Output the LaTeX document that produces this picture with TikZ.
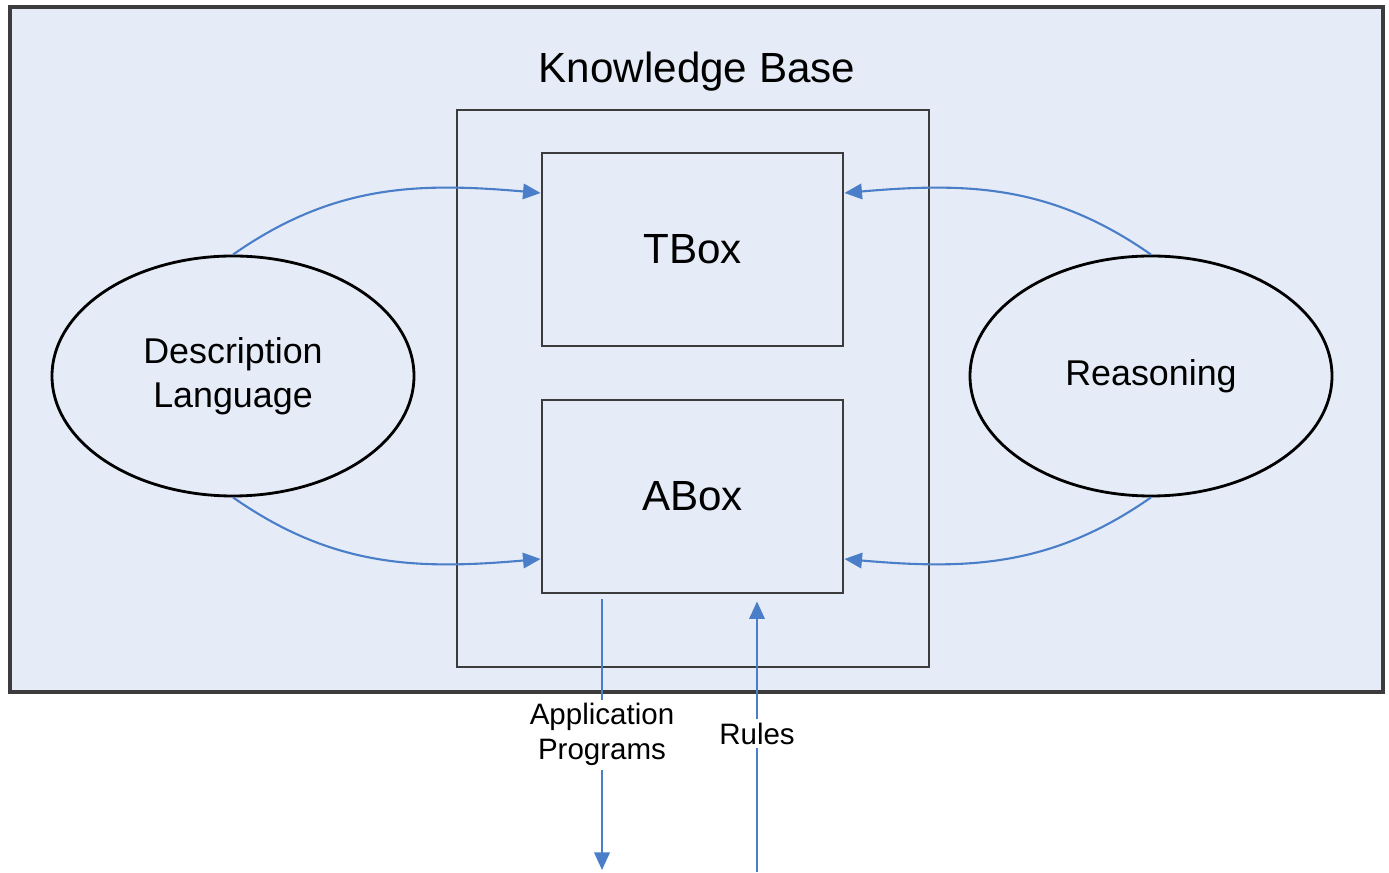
\documentclass[tikz,border=0pt]{standalone}
\usepackage{fontspec}
\setmainfont{Liberation Sans}
\usepackage{tikz}
\usetikzlibrary{shapes}
\usetikzlibrary{positioning}
\usetikzlibrary{arrows.meta}
\definecolor{kbfill}{RGB}{230,236,247}
\definecolor{kbblue}{RGB}{74,126,200}
\definecolor{kbline}{RGB}{60,60,60}
\tikzset{
    kbback/.style = {rectangle, line width=1.3pt, draw=kbline, fill=kbfill, minimum width=13.73cm, minimum height=6.85cm, inner sep=0},
    kbbox/.style = {rectangle, line width=0.8pt, draw=kbline, minimum width=4.72cm, minimum height=5.57cm, inner sep=0},
    kbpart/.style = {rectangle, line width=0.8pt, draw=kbline, minimum width=3.01cm, minimum height=1.93cm, inner sep=0, font=\fontsize{12}{14}\selectfont},
    kbellipse/.style = {ellipse, line width=0.8pt, draw=black, minimum width=3.62cm, minimum height=2.40cm, inner sep=0, align=center, font=\fontsize{10.2}{12.5}\selectfont},
    kblabel/.style = {fill=white, text=black, inner sep=1pt, align=center, font=\fontsize{8.4}{10}\selectfont},
    edgeb/.style = {-{Triangle[length=5pt,width=4.4pt]}, line width=0.6pt, kbblue}
}
\begin{document}
\begin{tikzpicture}
\useasboundingbox (0,0) rectangle (13.89,8.72);
\node[kbback] at ( 6.965, 5.225) (back) {};
\node[font=\fontsize{12}{14}\selectfont] at ( 6.97, 8.00) (kbtitle) {Knowledge Base};
\node[kbbox] at ( 6.93, 4.835) (kb) {};
\node[kbpart] at ( 6.925, 6.225) (tbox) {TBox};
\node[kbpart] at ( 6.925, 3.755) (abox) {ABox};
\node[kbellipse] at ( 2.33, 4.96) (dl) {Description\\Language};
\node[kbellipse] at (11.51, 4.96) (reason) {Reasoning};
\coordinate (append) at ( 6.02, 0.02);
\coordinate (rulestart) at ( 7.57, 0.00);

% into the boxes
\draw[edgeb] (dl.north) to[out=35, in=175] ([yshift=0.565cm]tbox.west);
\draw[edgeb] (dl.south) to[out=-35, in=185] ([yshift=-0.625cm]abox.west);
\draw[edgeb] (reason.north) to[out=145, in=5] ([yshift=0.565cm]tbox.east);
\draw[edgeb] (reason.south) to[out=-145, in=-5] ([yshift=-0.625cm]abox.east);

% in and out of the abox
\draw[edgeb] ([xshift=-0.905cm,yshift=-0.05cm]abox.south) -- node[kblabel] {Application\\Programs} (append);
\draw[edgeb] (rulestart) -- node[kblabel, yshift=0.03cm] {Rules} ([xshift=0.645cm,yshift=-0.07cm]abox.south);

\end{tikzpicture}
\end{document}
